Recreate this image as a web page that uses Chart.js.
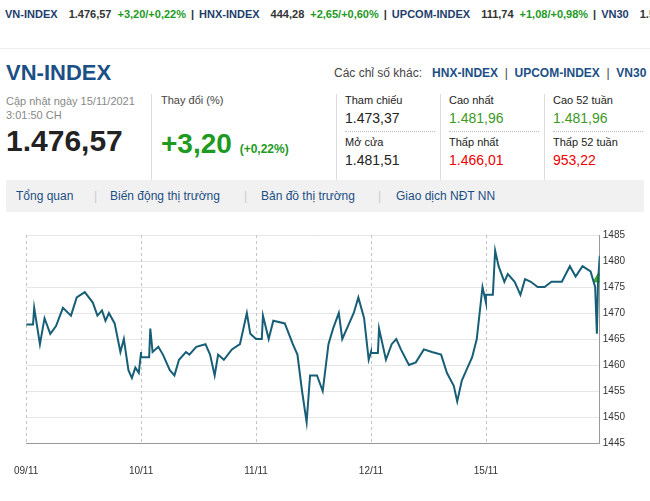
<!DOCTYPE html>
<html><head><meta charset="utf-8">
<script src="https://cdn.jsdelivr.net/npm/chart.js@4/dist/chart.umd.min.js"></script>
<style>
body{margin:0;width:650px;height:501px;overflow:hidden;font-family:Arial,"Liberation Sans",sans-serif;background:#fff;position:relative}
.tick{position:absolute;top:8px;left:5px;font-size:11px;font-weight:bold;color:#1e3d6b;white-space:nowrap}
.tick .g{color:#1e9a1e;margin-left:6px}.tick .n{color:#333;margin-left:8px}.tick .s{color:#333;margin:0 5px}
.sep{position:absolute;top:48px;left:0;width:650px;border-top:1px solid #eee}
.title{position:absolute;top:60px;left:6px;font-size:22px;font-weight:bold;color:#1c4f86}
.other{position:absolute;top:66px;left:334px;font-size:12px;color:#444;white-space:nowrap}
.other b{color:#1c4f86;font-weight:bold}
.small{position:absolute;font-size:11px;color:#888}
.lbl{position:absolute;font-size:11px;color:#222}
.val{position:absolute;font-size:14px;color:#222}
.vline{position:absolute;border-left:1px solid #ddd}
.dot{position:absolute;border-top:1px dotted #bbb;width:90px}
.nav{position:absolute;top:180px;left:6px;width:638px;height:32px;background:#f1f1f1;font-size:12px;color:#1c4f86;line-height:32px}
.nav span{position:absolute}
.nav i{position:absolute;color:#ccc;font-style:normal}
#wrap{position:absolute;left:0;top:226px;width:650px;height:275px}
</style></head><body>
<div class="tick">VN-INDEX <span class="n">1.476,57</span><span class="g">+3,20/+0,22%</span><span class="s">|</span>HNX-INDEX <span class="n">444,28</span><span class="g">+2,65/+0,60%</span><span class="s">|</span>UPCOM-INDEX <span class="n">111,74</span><span class="g">+1,08/+0,98%</span><span class="s">|</span>VN30 <span class="n">1.5</span></div>
<div class="sep"></div>
<div class="title">VN-INDEX</div>
<div class="other">Các chỉ số khác:&nbsp;&nbsp; <b>HNX-INDEX</b> &nbsp;|&nbsp; <b>UPCOM-INDEX</b> &nbsp;|&nbsp; <b>VN30</b></div>
<div class="small" style="top:94px;left:6px;line-height:14px">Cập nhật ngày 15/11/2021<br>3:01:50 CH</div>
<div style="position:absolute;top:124px;left:6px;font-size:30px;font-weight:bold;color:#222">1.476,57</div>
<div class="vline" style="left:151px;top:94px;height:112px"></div>
<div class="lbl" style="top:94px;left:161px;color:#444">Thay đổi (%)</div>
<div style="position:absolute;top:128px;left:161px;font-size:28px;font-weight:bold;color:#1e9a1e">+3,20 <span style="font-size:12px">(+0,22%)</span></div>
<div class="vline" style="left:336px;top:94px;height:112px"></div>
<div class="vline" style="left:440px;top:94px;height:112px"></div>
<div class="vline" style="left:544px;top:94px;height:112px"></div>
<div class="lbl" style="top:94px;left:345px">Tham chiếu</div><div class="val" style="top:110px;left:345px">1.473,37</div>
<div class="lbl" style="top:94px;left:449px">Cao nhất</div><div class="val" style="top:110px;left:449px;color:#3c9a1e">1.481,96</div>
<div class="lbl" style="top:94px;left:553px">Cao 52 tuần</div><div class="val" style="top:110px;left:553px;color:#3c9a1e">1.481,96</div>
<div class="dot" style="top:131px;left:345px"></div><div class="dot" style="top:131px;left:449px"></div><div class="dot" style="top:131px;left:553px"></div>
<div class="lbl" style="top:136px;left:345px">Mở cửa</div><div class="val" style="top:152px;left:345px">1.481,51</div>
<div class="lbl" style="top:136px;left:449px">Thấp nhất</div><div class="val" style="top:152px;left:449px;color:#e00">1.466,01</div>
<div class="lbl" style="top:136px;left:553px">Thấp 52 tuần</div><div class="val" style="top:152px;left:553px;color:#e00">953,22</div>
<div class="nav"><span style="left:10px">Tổng quan</span><i style="left:88px">|</i><span style="left:104px">Biến động thị trường</span><i style="left:238px">|</i><span style="left:255px">Bản đồ thị trường</span><i style="left:372px">|</i><span style="left:390px">Giao dịch NĐT NN</span></div>
<div id="wrap"><canvas id="c"></canvas></div>
<script>
// x positions are session progress within each day (0-100)
const dayLabels = ['09/11', '10/11', '11/11', '12/11', '15/11'];
const day1T = [0,6,7,12,16,21,26,32,39,44,51,58,62,66,69,72,77,82,85,89,92,95,98,100];
const day1V = [1467.8,1467.8,1471,1464,1469,1466,1467.5,1471,1469.5,1473,1474,1472,1469.5,1470.5,1468.5,1470,1468,1462.5,1465,1459,1457.5,1459.5,1458.5,1462.5];
const day2T = [0,7,8,10,15,19,25,29,33,39,42,48,56,60,64,67,72,79,86,92,95,100];
const day2V = [1461.5,1461.5,1467,1462.5,1463.5,1462,1459,1458,1461,1462.5,1462,1463.5,1464,1462,1458,1462,1461,1463,1464,1470,1466,1465];
const day3T = [0,5,6,11,15,25,32,36,40,44,47,53,58,63,67,72,75,81,85,89,94,98,100];
const day3V = [1465,1465,1469.5,1465,1468.5,1468,1464,1462,1455,1449,1458,1458,1455,1464,1467,1470,1465,1468,1470,1473,1469,1461,1462.5];
const day4T = [0,6,7,13,18,22,26,33,39,46,53,61,66,72,75,79,83,88,92,97,100];
const day4V = [1462.3,1462.3,1467,1461,1464,1465,1463,1460,1460.5,1463,1462.5,1462,1458.5,1456,1453,1457,1459,1461.5,1465,1475,1472];
const day5T = [0,6,8,11,16,19,25,30,34,39,45,51,57,66,73,78,84,91,95,96.5,97.5,99];
const day5V = [1473.5,1473.5,1482,1479,1476,1477.5,1476,1473.5,1476.5,1476,1475,1475,1476,1476,1479,1477,1479,1478,1475,1466,1476,1481];
const yTicks = [1445,1450,1455,1460,1465,1470,1475,1480,1485];
const lastValue = 1476.57;

const days = [[day1T, day1V], [day2T, day2V], [day3T, day3V], [day4T, day4V], [day5T, day5V]];
const points = [];
days.forEach(([t, v], d) => t.forEach((x, i) => points.push({ x: d * 100 + x, y: v[i] })));
const endX = 499;

new Chart(document.getElementById('c'), {
  type: 'line',
  data: {
    datasets: [
      { data: points, borderColor: '#175e77', borderWidth: 2, pointRadius: 0, tension: 0 },
      { data: [{ x: endX - 1, y: lastValue }], showLine: false, pointStyle: 'triangle', pointRadius: 6, backgroundColor: '#3cb41e', borderColor: '#2a8a14' },
    ],
  },
  options: {
    animation: false,
    responsive: true,
    maintainAspectRatio: false,
    layout: { padding: { left: 18, right: 22, top: 4, bottom: 10 } },
    plugins: { legend: { display: false }, tooltip: { enabled: false } },
    scales: {
      x: {
        type: 'linear', min: 0, max: endX,
        afterBuildTicks: s => { s.ticks = dayLabels.map((_, i) => ({ value: i * 100 })); },
        ticks: { callback: (v) => dayLabels[v / 100], color: '#333', font: { size: 10 }, maxRotation: 0, padding: 14 },
        grid: { display: false },
        border: { display: true, color: '#999' },
      },
      y: {
        position: 'right', min: 1445, max: 1485,
        afterBuildTicks: s => { s.ticks = yTicks.map(v => ({ value: v })); },
        ticks: { callback: v => String(v), color: '#333', font: { size: 10 }, padding: 3 },
        grid: { color: '#e6e6e6', drawTicks: false },
        border: { color: '#999' },
      },
    },
  },
  plugins: [{
    id: 'vdash',
    beforeDatasetsDraw(chart) {
      const { ctx, chartArea, scales } = chart;
      ctx.save();
      ctx.strokeStyle = '#c4c4c4'; ctx.setLineDash([3, 3]); ctx.lineWidth = 1;
      dayLabels.forEach((_, i) => {
        const x = Math.round(scales.x.getPixelForValue(i * 100)) + 0.5;
        ctx.beginPath(); ctx.moveTo(x, chartArea.top); ctx.lineTo(x, chartArea.bottom); ctx.stroke();
      });
      ctx.restore();
    },
  }],
});
</script>
</body></html>
